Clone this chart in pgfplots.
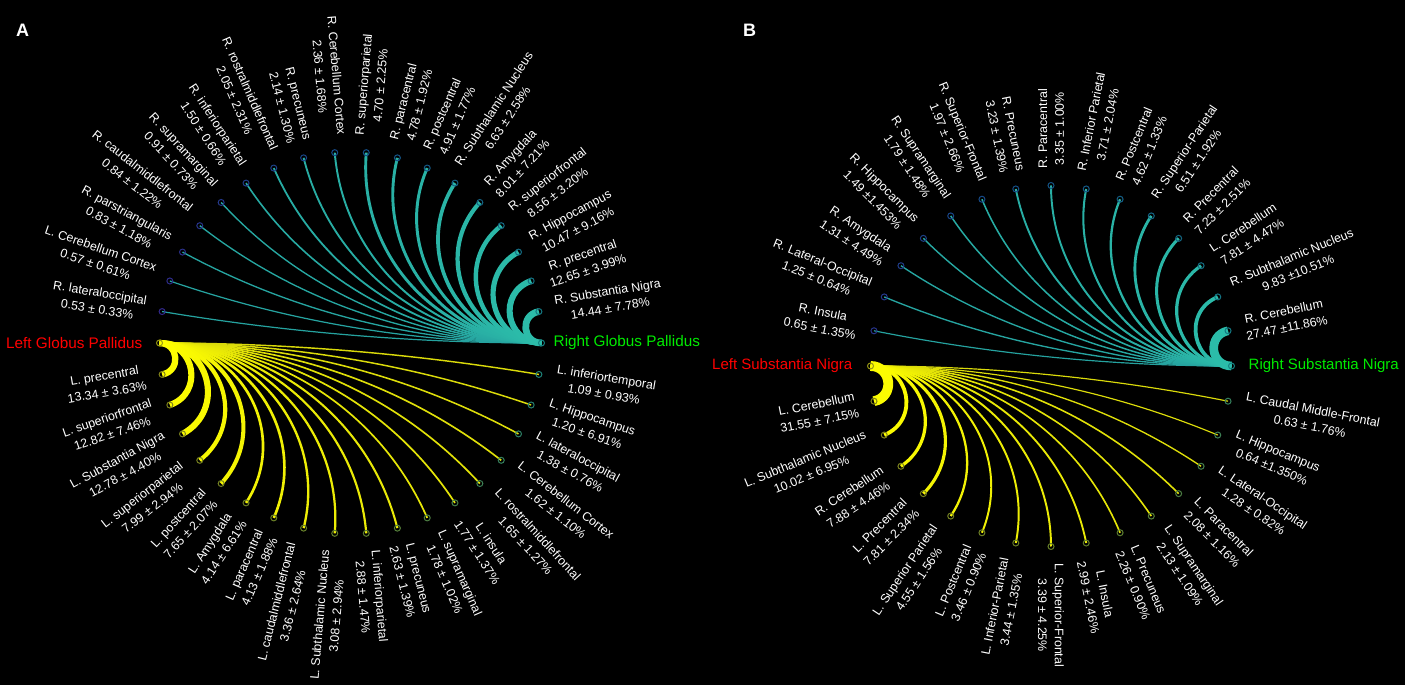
\documentclass[border=0pt]{standalone}
\usepackage{pgfplots}
\pgfplotsset{compat=1.18}
\usepackage{pgfplotstable}
\usepackage{fontspec}
\setmainfont{Liberation Sans}

\definecolor{tealc}{RGB}{44,190,170}
\definecolor{tealfar}{RGB}{25,110,140}
\definecolor{yel}{RGB}{255,255,0}
\definecolor{yelfar}{RGB}{150,150,30}
\definecolor{hubteal}{RGB}{20,130,130}
\definecolor{hubyel}{RGB}{150,150,20}
\definecolor{lblred}{RGB}{255,0,0}
\definecolor{lblgreen}{RGB}{0,235,0}

\pgfplotsset{
  colormap={mUp}{rgb255=(20,120,130) rgb255=(20,75,135) rgb255=(50,40,140)},
  colormap={mLo}{rgb255=(130,130,25) rgb255=(95,125,45) rgb255=(30,130,120)},
}

\newcommand\lab{\fontsize{12.4}{16.8}\selectfont}

% Panel A, right hub (teal), nodes counter-clockwise from the hub
\pgfplotstableread[col sep=comma]{
k,v,name,stat
1,14.44,R. Substantia Nigra,14.44 ± 7.78
2,12.65,R. precentral,12.65 ± 3.99
3,10.47,R. Hippocampus,10.47 ± 9.16
4,8.56,R. superiorfrontal,8.56 ± 3.20
5,8.01,R. Amygdala,8.01 ± 7.21
6,6.63,R. Subthalamic Nucleus,6.63 ± 2.58
7,4.91,R. postcentral,4.91 ± 1.77
8,4.78,R. paracentral,4.78 ± 1.92
9,4.70,R. superiorparietal,4.70 ± 2.25
10,2.36,R. Cerebellum Cortex,2.36 ± 1.68
11,2.14,R. precuneus,2.14 ± 1.30
12,2.05,R. rostralmiddlefrontal,2.05 ± 2.31
13,1.50,R. inferiorparietal,1.50 ± 0.66
14,0.91,R. supramarginal,0.91 ± 0.73
15,0.84,R. caudalmiddlefrontal,0.84 ± 1.22
16,0.83,R. parstriangularis,0.83 ± 1.18
17,0.57,L. Cerebellum Cortex,0.57 ± 0.61
18,0.53,R. lateraloccipital,0.53 ± 0.33
}\AUp

% Panel A, left hub (yellow)
\pgfplotstableread[col sep=comma]{
k,v,name,stat
1,13.34,L. precentral,13.34 ± 3.63
2,12.82,L. superiorfrontal,12.82 ± 7.46
3,12.78,L. Substantia Nigra,12.78 ± 4.40
4,7.99,L. superiorparietal,7.99 ± 2.94
5,7.65,L. postcentral,7.65 ± 2.07
6,4.14,L. Amygdala,4.14 ± 6.61
7,4.13,L. paracentral,4.13 ± 1.88
8,3.36,L. caudalmiddlefrontal,3.36 ± 2.64
9,3.08,L. Subthalamic Nucleus,3.08 ± 2.94
10,2.88,L. inferiorparietal,2.88 ± 1.47
11,2.63,L. precuneus,2.63 ± 1.39
12,1.78,L. supramarginal,1.78 ± 1.02
13,1.77,L. insula,1.77 ± 1.37
14,1.65,L. rostralmiddlefrontal,1.65 ± 1.27
15,1.62,L. Cerebellum Cortex,1.62 ± 1.10
16,1.38,L. lateraloccipital,1.38 ± 0.76
17,1.20,L. Hippocampus,1.20 ± 6.91
18,1.09,L. inferiortemporal,1.09 ± 0.93
}\ALo

% Panel B, right hub (teal)
\pgfplotstableread[col sep=comma]{
k,v,name,stat
1,27.47,R. Cerebellum,27.47 ±11.86
2,9.83,R. Subthalamic Nucleus,9.83 ±10.51
3,7.81,L. Cerebellum,7.81 ± 4.47
4,7.23,R. Precentral,7.23 ± 2.51
5,6.51,R. Superior-Parietal,6.51 ± 1.92
6,4.62,R. Postcentral,4.62 ± 1.33
7,3.71,R. Inferior Parietal,3.71 ± 2.04
8,3.35,R. Paracentral,3.35 ± 1.00
9,3.23,R. Precuneus,3.23 ± 1.39
10,1.97,R. Superior-Frontal,1.97 ± 2.66
11,1.79,R. Supramarginal,1.79 ± 1.48
12,1.49,R. Hippocampus,1.49 ±1.453
13,1.31,R. Amygdala,1.31 ± 4.49
14,1.25,R. Lateral-Occipital,1.25 ± 0.64
15,0.65,R. Insula,0.65 ± 1.35
}\BUp

% Panel B, left hub (yellow)
\pgfplotstableread[col sep=comma]{
k,v,name,stat
1,31.55,L. Cerebellum,31.55 ± 7.15
2,10.02,L. Subthalamic Nucleus,10.02 ± 6.95
3,7.88,R. Cerebellum,7.88 ± 4.46
4,7.81,L. Precentral,7.81 ± 2.34
5,4.55,L. Superior Parietal,4.55 ± 1.56
6,3.46,L. Postcentral,3.46 ± 0.90
7,3.44,L. Inferior-Parietal,3.44 ± 1.35
8,3.39,L. Superior-Frontal,3.39 ± 4.25
9,2.99,L. Insula,2.99 ± 2.46
10,2.26,L. Precuneus,2.26 ± 0.90
11,2.13,L. Supramarginal,2.13 ± 1.09
12,2.08,L. Paracentral,2.08 ± 1.16
13,1.28,L. Lateral-Occipital,1.28 ± 0.82
14,0.64,L. Hippocampus,0.64 ±1.350
15,0.63,L. Caudal Middle-Frontal,0.63 ± 1.76
}\BLo

% #1 table, #2 hub angle, #3 width factor, #4 near colour, #5 far colour, #6 node count, #7 angular step
\newcommand\fan[7]{%
  \pgfplotstablegetrowsof{#1}%
  \pgfmathtruncatemacro\nrows{\pgfplotsretval-1}%
  \foreach \i in {\nrows,...,0}{%
    \pgfplotstablegetelem{\i}{k}\of{#1}\pgfmathsetmacro\kk{\pgfplotsretval}%
    \pgfplotstablegetelem{\i}{v}\of{#1}\pgfmathsetmacro\vv{\pgfplotsretval}%
    \pgfplotstablegetelem{\i}{name}\of{#1}\let\nm\pgfplotsretval
    \pgfplotstablegetelem{\i}{stat}\of{#1}\let\st\pgfplotsretval
    \pgfmathsetmacro\th{\kk*#7}%
    \pgfmathsetmacro\aa{#2+\th}%
    \pgfmathsetmacro\L{4/3*tan((180-\th)/4)*\R*tan(\th/2)}%
    \pgfmathsetmacro\xa{\cx+\R*cos(#2)}%
    \pgfmathsetmacro\ya{\cy+\R*sin(#2)}%
    \pgfmathsetmacro\xb{\cx+(\R-\L)*cos(#2)}%
    \pgfmathsetmacro\yb{\cy+(\R-\L)*sin(#2)}%
    \pgfmathsetmacro\xc{\cx+(\R-\L)*cos(\aa)}%
    \pgfmathsetmacro\yc{\cy+(\R-\L)*sin(\aa)}%
    \pgfmathsetmacro\xd{\cx+\R*cos(\aa)}%
    \pgfmathsetmacro\yd{\cy+\R*sin(\aa)}%
    \pgfmathsetmacro\w{1+#3*\vv}%
    \pgfmathtruncatemacro\mx{100-35*\kk/#6}%
    \pgfmathsetmacro\lx{\cx+(\R+17)*cos(\aa)}%
    \pgfmathsetmacro\ly{\cy+(\R+17)*sin(\aa)}%
    \pgfmathtruncatemacro\side{cos(\aa)>-0.01}%
    \ifnum\side=1 \pgfmathsetmacro\rot{\aa}\def\anc{west}\else\pgfmathsetmacro\rot{\aa-180}\def\anc{east}\fi
    \edef\cmd{\noexpand\draw[line width=\w pt, color=#4!\mx!#5] (axis cs:\xa,\ya) .. controls (axis cs:\xb,\yb) and (axis cs:\xc,\yc) .. (axis cs:\xd,\yd);
      \noexpand\node[rotate=\rot, anchor=\anc, align=center, font=\noexpand\lab, text=white, inner sep=0pt] at (axis cs:\lx,\ly) {\nm\noexpand\\\st\noexpand\%};}%
    \cmd
  }%
}

\begin{document}
\begin{tikzpicture}
\begin{axis}[
  width=1405pt, height=685pt, scale only axis,
  xmin=0, xmax=1405, ymin=0, ymax=685,
  axis line style={draw=none}, xtick=\empty, ytick=\empty,
  axis background/.style={fill=black},
  clip=false,
]
% ---------- Panel A ----------
\def\cx{350.5}\def\cy{342}\def\R{191}
\fan{\AUp}{0}{0.4}{tealc}{tealfar}{18}{180/19}
\fan{\ALo}{180}{0.4}{yel}{yelfar}{18}{180/19}
\addplot[scatter, only marks, mark=o, mark size=3pt, line width=1pt, colormap name=mUp,
  point meta=\thisrow{k}, scatter/use mapped color={draw=mapped color}]
  table[x expr={350.5+191*cos(\thisrow{k}*180/19)}, y expr={342+191*sin(\thisrow{k}*180/19)}] {\AUp};
\addplot[scatter, only marks, mark=o, mark size=3pt, line width=1pt, colormap name=mLo,
  point meta=\thisrow{k}, scatter/use mapped color={draw=mapped color}]
  table[x expr={350.5+191*cos(180+\thisrow{k}*180/19)}, y expr={342+191*sin(180+\thisrow{k}*180/19)}] {\ALo};
\addplot[only marks, mark=o, mark size=3pt, line width=1pt, color=hubteal] coordinates {(541.5,342)};
\addplot[only marks, mark=o, mark size=3pt, line width=1pt, color=hubyel] coordinates {(159.5,342)};
\node[anchor=east, text=lblred, font=\fontsize{15.3}{18}\selectfont, inner sep=0pt] at (axis cs:142.5,342) {Left Globus Pallidus};
\node[anchor=west, text=lblgreen, font=\fontsize{15.3}{18}\selectfont, inner sep=0pt] at (axis cs:553.5,342) {Right Globus Pallidus};
\node[anchor=base west, text=white, font=\bfseries\fontsize{18}{18}\selectfont, inner sep=0pt] at (axis cs:16,648) {A};
% ---------- Panel B ----------
\def\cx{1051}\def\cy{319}\def\R{180.5}
\fan{\BUp}{0}{0.28}{tealc}{tealfar}{15}{11.25}
\fan{\BLo}{180}{0.28}{yel}{yelfar}{15}{11.25}
\addplot[scatter, only marks, mark=o, mark size=3pt, line width=1pt, colormap name=mUp,
  point meta=\thisrow{k}, scatter/use mapped color={draw=mapped color}]
  table[x expr={1051+180.5*cos(\thisrow{k}*11.25)}, y expr={319+180.5*sin(\thisrow{k}*11.25)}] {\BUp};
\addplot[scatter, only marks, mark=o, mark size=3pt, line width=1pt, colormap name=mLo,
  point meta=\thisrow{k}, scatter/use mapped color={draw=mapped color}]
  table[x expr={1051+180.5*cos(180+\thisrow{k}*11.25)}, y expr={319+180.5*sin(180+\thisrow{k}*11.25)}] {\BLo};
\addplot[only marks, mark=o, mark size=3pt, line width=1pt, color=hubteal] coordinates {(1231.5,319)};
\addplot[only marks, mark=o, mark size=3pt, line width=1pt, color=hubyel] coordinates {(870.5,319)};
\node[anchor=east, text=lblred, font=\fontsize{15}{18}\selectfont, inner sep=0pt] at (axis cs:852.5,319) {Left Substantia Nigra};
\node[anchor=west, text=lblgreen, font=\fontsize{15}{18}\selectfont, inner sep=0pt] at (axis cs:1248.5,319) {Right Substantia Nigra};
\node[anchor=base west, text=white, font=\bfseries\fontsize{18}{18}\selectfont, inner sep=0pt] at (axis cs:743,648) {B};
\end{axis}
\end{tikzpicture}
\end{document}
